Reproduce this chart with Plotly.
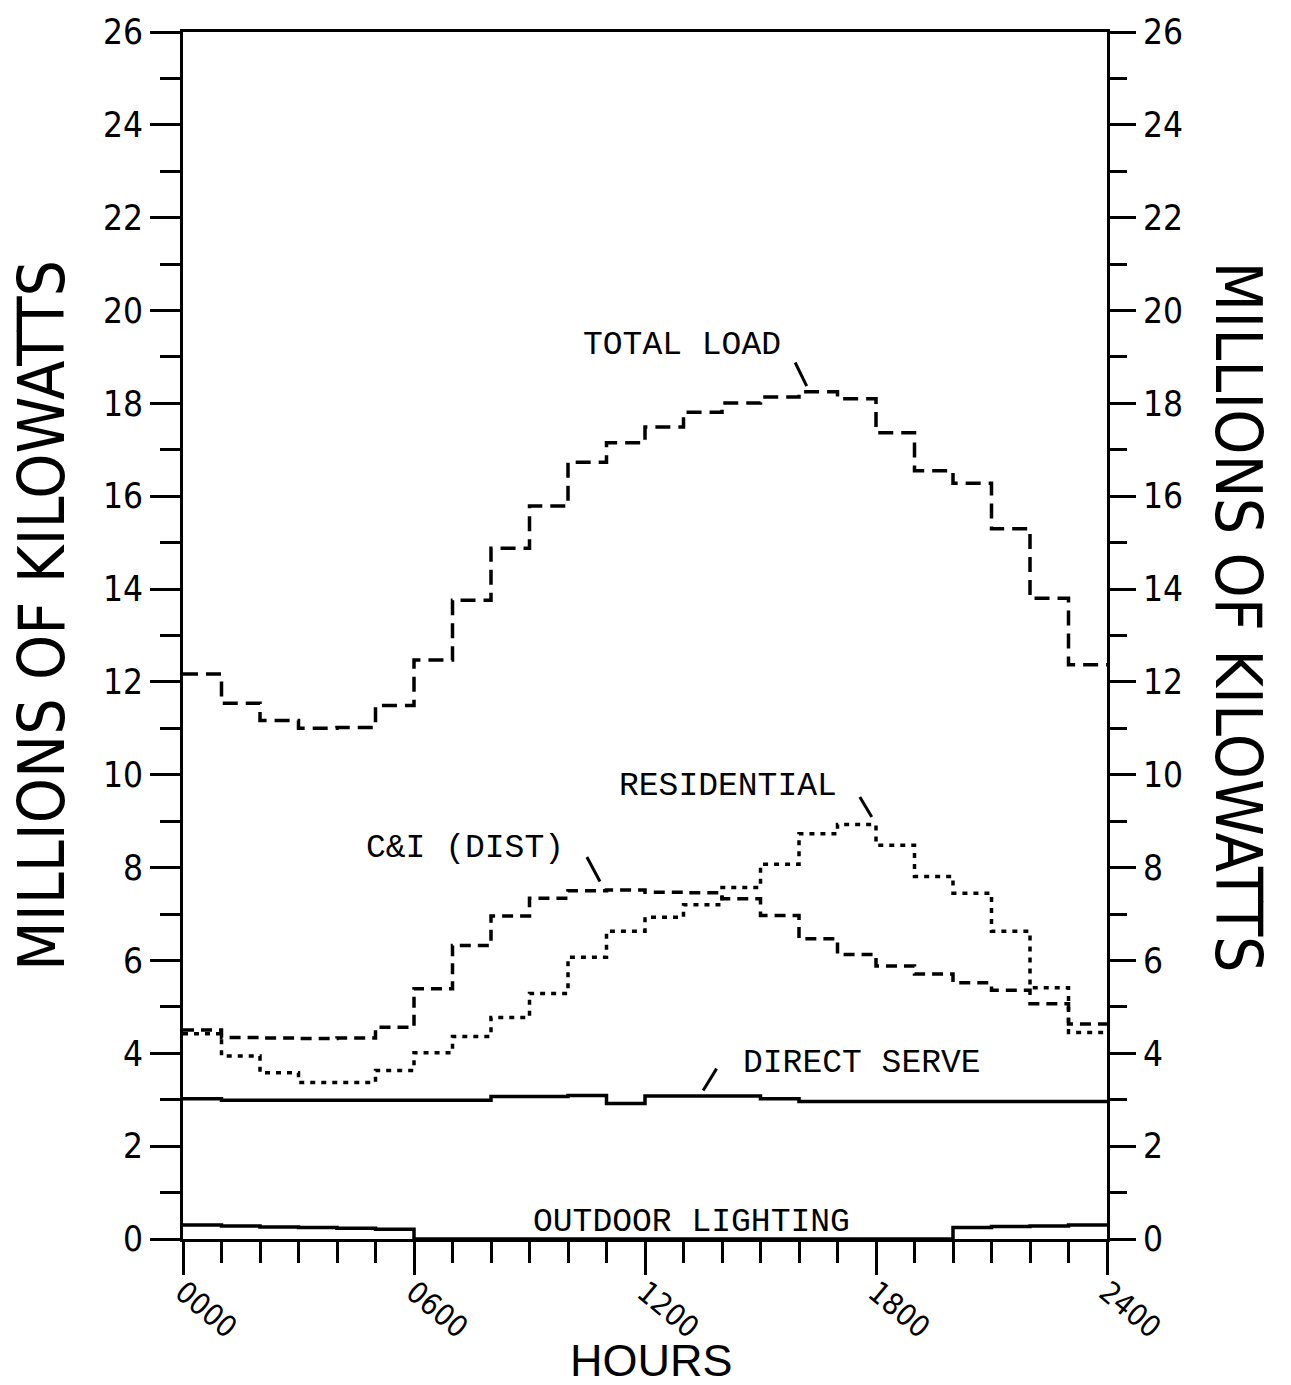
import plotly.graph_objects as go

# Hourly load blocks (millions of kW), hour 0 -> 23
hours = list(range(25))  # step edges 0000 .. 2400

total_load = [12.17, 11.54, 11.17, 11.00, 11.02, 11.49, 12.47, 13.76, 14.88, 15.79, 16.73, 17.15,
              17.49, 17.81, 18.01, 18.14, 18.25, 18.10, 17.37, 16.55, 16.28, 15.30, 13.80, 12.37]
ci_dist = [4.50, 4.34, 4.33, 4.32, 4.33, 4.56, 5.39, 6.32, 6.96, 7.34, 7.50, 7.52,
           7.47, 7.46, 7.33, 6.97, 6.47, 6.13, 5.88, 5.71, 5.52, 5.36, 5.07, 4.63]
residential = [4.42, 3.94, 3.58, 3.37, 3.37, 3.63, 4.01, 4.36, 4.77, 5.29, 6.07, 6.63,
               6.93, 7.20, 7.57, 8.07, 8.73, 8.93, 8.48, 7.81, 7.45, 6.63, 5.41, 4.45]
direct_serve = [3.02, 2.99, 2.99, 2.99, 2.99, 2.99, 2.99, 2.99, 3.07, 3.07, 3.09, 2.92,
                3.08, 3.08, 3.08, 3.02, 2.96, 2.96, 2.96, 2.96, 2.96, 2.96, 2.96, 2.96]
outdoor_lighting = [0.30, 0.28, 0.26, 0.25, 0.23, 0.21, 0, 0, 0, 0, 0, 0,
                    0, 0, 0, 0, 0, 0, 0, 0, 0.25, 0.27, 0.28, 0.30]

x_tickvals = [0, 6, 12, 18, 24]
x_ticktext = ["0000", "0600", "1200", "1800", "2400"]

TICK_FONT = "Liberation Sans Narrow, DejaVu Sans Condensed, Roboto Condensed, Liberation Sans, sans-serif"
TITLE_FONT = TICK_FONT
LABEL_FONT = "Liberation Mono, DejaVu Sans Mono, monospace"
PLAIN_FONT = "Liberation Sans, DejaVu Sans, sans-serif"


def steps(values):
    # repeat the last block so the final hour runs to 2400
    return values + [values[-1]]


fig = go.Figure()

# (name, values, dash pattern, y axis) -- both y axes share the 0..26 scale
series = [
    ("TOTAL LOAD", total_load, "15px,8px", "y"),
    ("C&I (DIST)", ci_dist, "11px,7px", "y"),
    ("RESIDENTIAL", residential, "5px,6px", "y"),
    ("DIRECT SERVE", direct_serve, "solid", "y2"),
    ("OUTDOOR LIGHTING", outdoor_lighting, "solid", "y"),
]
for name, vals, dash, yax in series:
    fig.add_trace(go.Scatter(
        x=hours, y=steps(vals), name=name, mode="lines", yaxis=yax,
        line=dict(color="black", width=3.5, dash=dash, shape="hv"),
        showlegend=False, hoverinfo="skip",
    ))

# curve labels with short leader strokes
labels = [
    ("TOTAL LOAD", 12.97, 19.24),
    ("C&I (DIST)", 7.32, 8.41),
    ("RESIDENTIAL", 14.16, 9.75),
    ("DIRECT SERVE", 17.63, 3.79),
    ("OUTDOOR LIGHTING", 13.22, 0.35),
]
for text, lx, ly in labels:
    fig.add_annotation(x=lx, y=ly, xref="x", yref="y", text=text, showarrow=False,
                       xanchor="center", yanchor="middle",
                       font=dict(family=LABEL_FONT, size=33, color="black"))

leaders = [
    (15.90, 18.88, 16.20, 18.37),
    (17.58, 9.52, 17.89, 9.09),
    (10.49, 8.23, 10.83, 7.70),
    (13.86, 3.67, 13.51, 3.20),
]
for x0, y0, x1, y1 in leaders:
    fig.add_shape(type="line", xref="x", yref="y", x0=x0, y0=y0, x1=x1, y1=y1,
                  line=dict(color="black", width=3))

# axis titles
fig.add_annotation(x=-0.1526, y=0.517, xref="paper", yref="paper", text="MILLIONS OF KILOWATTS",
                   textangle=-90, showarrow=False, xanchor="center", yanchor="middle",
                   font=dict(family=TITLE_FONT, size=64, color="black"))
fig.add_annotation(x=1.1418, y=0.5157, xref="paper", yref="paper", text="MILLIONS OF KILOWATTS",
                   textangle=90, showarrow=False, xanchor="center", yanchor="middle",
                   font=dict(family=TITLE_FONT, size=64, color="black"))
fig.add_annotation(x=0.5065, y=-0.1005, xref="paper", yref="paper", text="HOURS",
                   showarrow=False, xanchor="center", yanchor="middle",
                   font=dict(family=PLAIN_FONT, size=45, color="black"))

y_common = dict(
    range=[0, 26], tickmode="linear", tick0=0, dtick=2,
    ticks="outside", tickwidth=3, tickcolor="black",
    showline=True, linewidth=3, linecolor="black",
    showgrid=False, zeroline=False,
    tickfont=dict(family=TICK_FONT, size=35, color="black"),
    ticklabelstandoff=0,
)

fig.update_layout(
    width=1291, height=1385,
    margin=dict(l=183, r=184, t=25, b=146),
    paper_bgcolor="white", plot_bgcolor="white",
    xaxis=dict(
        range=[0, 24], tickmode="array", tickvals=x_tickvals, ticktext=x_ticktext,
        ticks="outside", ticklen=33, tickwidth=3, tickcolor="black", tickangle=40,
        minor=dict(tickmode="linear", tick0=0, dtick=1, ticks="outside", ticklen=21,
                   tickwidth=3, tickcolor="black"),
        showline=True, linewidth=3, linecolor="black", mirror=True,
        showgrid=False, zeroline=False,
        tickfont=dict(family=TICK_FONT, size=30, color="black"),
        ticklabelstandoff=-12,
    ),
    yaxis=dict(
        side="left", ticklen=30,
        minor=dict(tickmode="linear", tick0=0, dtick=1, ticks="outside", ticklen=20,
                   tickwidth=3, tickcolor="black"),
        **y_common,
    ),
    yaxis2=dict(
        overlaying="y", side="right", anchor="x", ticklen=26,
        minor=dict(tickmode="linear", tick0=0, dtick=1, ticks="outside", ticklen=17,
                   tickwidth=3, tickcolor="black"),
        **y_common,
    ),
)

fig.write_html("out.html")
